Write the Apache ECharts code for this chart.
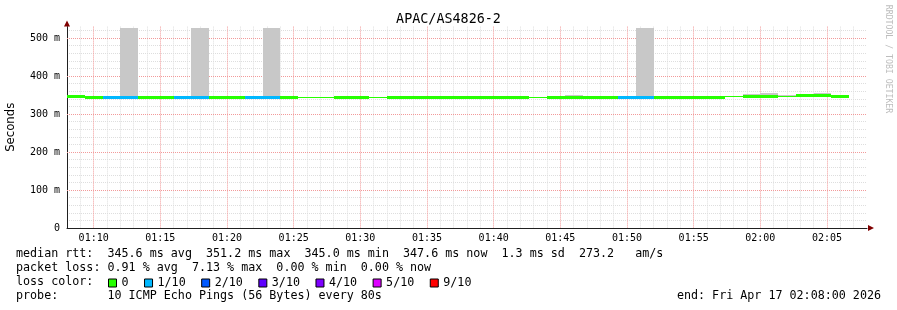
<!DOCTYPE html>
<html>
<head>
<meta charset="utf-8">
<script src="https://cdn.jsdelivr.net/npm/echarts@6.0.0/dist/echarts.min.js"></script>
<style>
  html, body { margin: 0; padding: 0; background: #fff; }
  #chart { width: 897px; height: 310px; }
</style>
</head>
<body>
<div id="chart"></div>
<script>
// ---- data ----
const chartTitle = 'APAC/AS4826-2';
const stepSeconds = 80;             // one probe every 80 s
const spanMinutes = 60;             // 01:08 .. 02:08
const xTickLabels = ['01:10','01:15','01:20','01:25','01:30','01:35','01:40','01:45','01:50','01:55','02:00','02:05'];
const yTickLabels = ['0','100 m','200 m','300 m','400 m','500 m'];

// median rtt per step (ms)
const median = [
  347.6, 345.0, 345.0, 345.0, 345.2, 345.2, 345.0, 345.0, 345.0, 345.0,
  345.4, 345.4, 345.0, 345.0, 345.0, 345.0, 345.0, 345.0, 345.0, 345.0,
  345.0, 345.0, 345.0, 345.0, 345.0, 345.0, 345.0, 345.0, 345.0, 345.0,
  345.0, 345.0, 345.0, 345.0, 345.0, 345.0, 345.0, 347.4, 347.6, 347.6,
  347.4, 350.0, 350.8, 347.6
];
// lost pings out of 10 per step (null = unknown)
const loss = [
  0, 0, 1, 1, 0, 0, 1, 1, 0, 0,
  1, 1, 0, null, null, 0, 0, null, 0, 0,
  0, 0, 0, 0, 0, 0, null, 0, 0, 0,
  0, 1, 1, 0, 0, 0, 0, null, 0, 0,
  null, 0, 0, 0
];
// highest ping of the step (smoke top, ms)
const smokeMax = [
  null, null, null, 526, null, null, null, 526, null, null,
  348.5, 526, null, null, null, null, null, null, null, null,
  null, null, null, null, null, null, null, null, 349.5, null,
  null, null, 526, null, null, null, null, null, 351.5, 355,
  350, 351, 355, 350.5
];

const lossLevels = [0, 1, 2, 3, 4, 5, 9];
const lossNames  = ['0', '1/10', '2/10', '3/10', '4/10', '5/10', '9/10'];
const lossColors = ['#26ff00', '#00b8ff', '#0059ff', '#5e00ff', '#7e00ff', '#dd00ff', '#ff0000'];

const statLines = [
  'median rtt:  345.6 ms avg  351.2 ms max  345.0 ms min  347.6 ms now  1.3 ms sd  273.2   am/s',
  'packet loss: 0.91 % avg  7.13 % max  0.00 % min  0.00 % now',
  'loss color:',
  'probe:       10 ICMP Echo Pings (56 Bytes) every 80s'
];
const endText = 'end: Fri Apr 17 02:08:00 2026';
const watermark = 'RRDTOOL / TOBI OETIKER';

// ---- build ----
const stepMin = stepSeconds / 60;
function seg(k) { return [k * stepMin, (k + 1) * stepMin]; }

const smokeData = [];
const thinData = [];
const lossData = lossLevels.map(() => []);
median.forEach((m, k) => {
  const [a, b] = seg(k);
  if (smokeMax[k] != null) smokeData.push([a, b, m, smokeMax[k]]);
  if (loss[k] == null) { thinData.push([a, b, m]); return; }
  const li = lossLevels.indexOf(loss[k]);
  lossData[li].push([a, b, m]);
});

function segRender(h) {
  return function (params, api) {
    const p1 = api.coord([api.value(0), api.value(2)]);
    const p2 = api.coord([api.value(1), api.value(2)]);
    const x1 = Math.round(p1[0]), x2 = Math.round(p2[0]);
    const yc = Math.round(p1[1]);
    return {
      type: 'rect',
      shape: { x: x1, y: h > 1 ? yc - 1 : yc, width: x2 - x1, height: h },
      style: { fill: api.visual('color') }
    };
  };
}
function smokeRender(params, api) {
  const p1 = api.coord([api.value(0), api.value(3)]);
  const p2 = api.coord([api.value(1), api.value(2)]);
  const x1 = Math.round(p1[0]), x2 = Math.round(p2[0]);
  const yt = Math.round(p1[1]), yb = Math.round(p2[1]);
  return {
    type: 'rect',
    shape: { x: x1, y: yt, width: x2 - x1, height: yb - yt },
    style: { fill: api.visual('color') }
  };
}

const mono = '"DejaVu Sans Mono", monospace';
const GRAY = '#dedede', RED = '#f29a9a', NONE = 'rgba(255,255,255,0)';

const series = [
  {
    name: 'smoke', type: 'custom', renderItem: smokeRender, data: smokeData,
    encode: { x: [0, 1], y: [2, 3] }, itemStyle: { color: '#c8c8c8' }, z: 2, silent: true
  },
  {
    name: 'median', type: 'custom', renderItem: segRender(1), data: thinData,
    encode: { x: [0, 1], y: 2 }, itemStyle: { color: lossColors[0] }, z: 3, silent: true
  }
];
lossLevels.forEach((lv, i) => {
  series.push({
    name: lossNames[i], type: 'custom', renderItem: segRender(3), data: lossData[i],
    encode: { x: [0, 1], y: 2 }, itemStyle: { color: lossColors[i] }, z: 4, silent: true
  });
});

const textY = [254, 268, 282, 296];
const graphics = statLines.map((t, i) => ({
  type: 'text', x: 16, y: textY[i],
  style: { text: t, font: '11.7px ' + mono, fill: '#000', verticalAlign: 'middle', align: 'left' }
}));
graphics.push({
  type: 'text', x: 881, y: textY[3],
  style: { text: endText, font: '11.7px ' + mono, fill: '#000', verticalAlign: 'middle', align: 'right' }
});
graphics.push({
  type: 'text', x: 888, y: 59, rotation: -Math.PI / 2,
  style: { text: watermark, font: '8.2px ' + mono, fill: '#bdbdbd', verticalAlign: 'middle', align: 'center' }
});

const chart = echarts.init(document.getElementById('chart'), null, { renderer: 'canvas' });
chart.setOption({
  animation: false,
  backgroundColor: '#ffffff',
  title: {
    text: chartTitle, left: 'center', top: 13.5, padding: 0,
    textStyle: { fontFamily: mono, fontSize: 13.4, fontWeight: 'normal', color: '#000' }
  },
  grid: { left: 67, right: 30, top: 26.6, bottom: 82, containLabel: false, outerBoundsMode: 'none' },
  legend: {
    left: 108, top: 277, padding: 0,
    icon: 'rect', itemWidth: 8, itemHeight: 8, itemGap: 15.5, selectedMode: false,
    textStyle: { fontFamily: mono, fontSize: 11.7, color: '#000' },
    data: lossNames.map((n, i) => ({ name: n, itemStyle: { color: lossColors[i], borderColor: '#000', borderWidth: 1 } }))
  },
  xAxis: [
    {
      type: 'value', min: 0, max: spanMinutes, interval: 1,
      axisLine: { show: true, lineStyle: { color: '#202020', width: 1 } },
      axisTick: { show: false },
      axisLabel: {
        margin: 5, fontFamily: mono, fontSize: 10, color: '#000', interval: 0,
        formatter: function (v) {
          const idx = (v - 2) / 5;
          if (Math.abs(idx - Math.round(idx)) > 1e-6) return '';
          return xTickLabels[Math.round(idx)] || '';
        }
      },
      splitLine: { show: true, showMaxLine: false, lineStyle: { color: [GRAY, GRAY, RED, GRAY, GRAY], type: [1, 1], width: 1 } }
    },
    {
      type: 'value', min: 0, max: spanMinutes, position: 'bottom',
      axisLine: { show: true, onZero: false, symbol: ['none', 'triangle'], symbolSize: [6, 6], symbolOffset: [0, 4],
                  lineStyle: { color: '#800000', width: 0 } },
      axisTick: { show: false }, axisLabel: { show: false }, splitLine: { show: false }
    }
  ],
  yAxis: [
    {
      type: 'value', min: 0, max: 530, interval: 20,
      name: 'Seconds', nameLocation: 'middle', nameGap: 50, nameRotate: 90,
      nameTextStyle: { fontFamily: '"DejaVu Sans", sans-serif', fontSize: 11.7, color: '#000' },
      axisLine: { show: true, lineStyle: { color: '#202020', width: 1 } },
      axisTick: { show: false },
      axisLabel: {
        margin: 7, fontFamily: mono, fontSize: 10, color: '#000',
        formatter: function (v) {
          if (v % 100 !== 0) return '';
          return yTickLabels[v / 100] || '';
        }
      },
      splitLine: { show: true, showMaxLine: false, lineStyle: { color: [NONE, GRAY, GRAY, GRAY, GRAY], type: [1, 1], width: 1 } }
    },
    {
      type: 'value', min: 0, max: 530, position: 'left',
      axisLine: { show: true, onZero: false, symbol: ['none', 'triangle'], symbolSize: [6, 6], symbolOffset: [0, 3],
                  lineStyle: { color: '#800000', width: 0 } },
      axisTick: { show: false }, axisLabel: { show: false }, splitLine: { show: false }
    },
    {
      type: 'value', min: 0, max: 530, interval: 100, position: 'left', z: 1,
      axisLine: { show: false }, axisTick: { show: false }, axisLabel: { show: false },
      splitLine: { show: true, showMinLine: false, showMaxLine: false, lineStyle: { color: RED, type: [1, 1], width: 1 } }
    }
  ],
  series: series,
  graphic: graphics
});
</script>
</body>
</html>
